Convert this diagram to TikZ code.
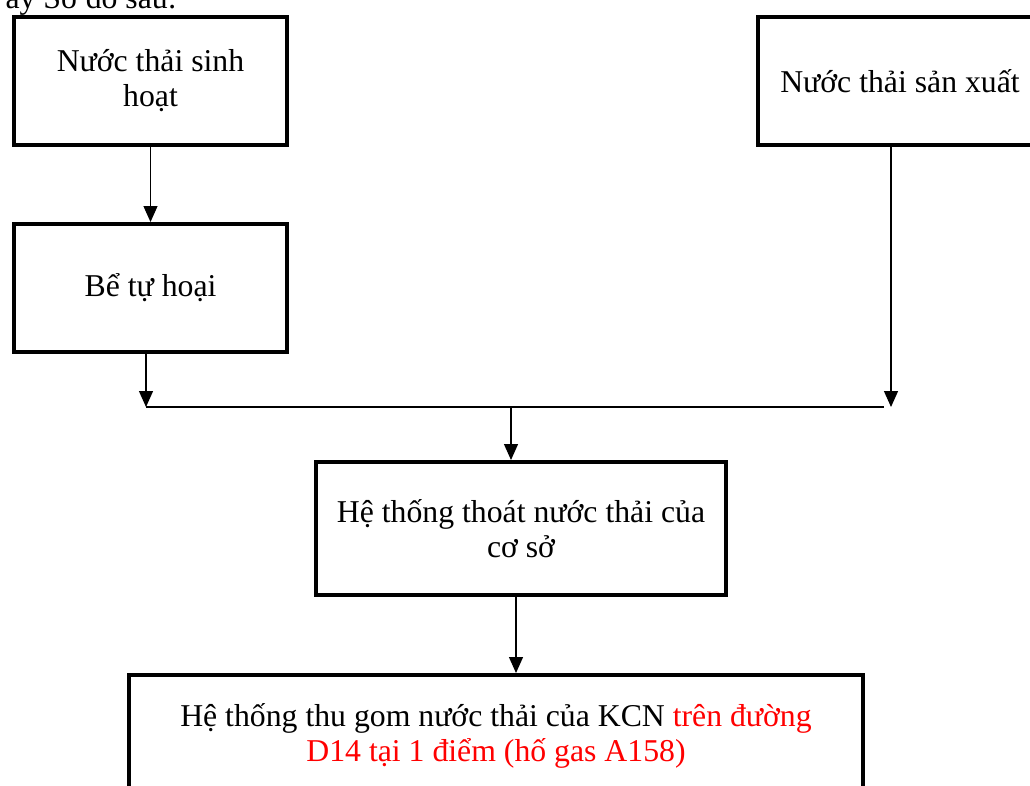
\documentclass[tikz,border=0pt]{standalone}
\usepackage{fontspec}
\setmainfont{Liberation Serif}
\usepackage{xcolor}
\usetikzlibrary{arrows.meta, positioning, calc}

\begin{document}
\begin{tikzpicture}
			\tikzstyle{box} = [rectangle, minimum width=109.2pt, minimum height=51.2pt, align=center, draw=black, line width=1.6pt, font=\fontsize{12.7}{14}\selectfont]
			\tikzstyle{arrow} = [line width=0.5pt, -{Triangle[width=5.6pt,length=6.4pt]}]
			
			\useasboundingbox (0,0) rectangle (412pt,-314pt);
			
			% Text above
			\node (intro) [anchor=base west, inner sep=0pt, font=\fontsize{12.7}{14}\selectfont] at (2pt,-3.4pt) {ây Sơ đồ sau:};
			
			% Nodes
			\node (sinhhoat) [box] at (60.2pt,-32.4pt) {Nước thải sinh\\hoạt};
			\node (tuhoai) [box, below=30pt of sinhhoat] {Bể tự hoại};
			\node (sanxuat) [box, right=186.8pt of sinhhoat, minimum width=113.6pt] {Nước thải sản xuất};
			
			\node (xuly) [box, minimum width=164pt, minimum height=53.2pt] at (208.4pt,-211.4pt) {Hệ thống thoát nước thải của\\cơ sở};
			\node (thugom) [box, below=30.4pt of xuly, xshift=-10pt, minimum width=293.6pt, minimum height=49pt] {Hệ thống thu gom nước thải của KCN \textcolor{red}{trên đường}\\\textcolor{red}{D14 tại 1 điểm (hố gas A158)}};
			
			% Junction
			\coordinate (jleft) at (58.4pt,-162.8pt);
			\coordinate (jright) at (356.4pt,-162.8pt);
			\coordinate (jmid) at (204.4pt,-162.8pt);
			
			% Arrows
			\draw [arrow] (sinhhoat) -- (tuhoai);
			\draw [arrow] (tuhoai.south -| jleft) -- (jleft);
			\draw [arrow] (sanxuat.south -| jright) -- (jright);
			\draw [line width=0.5pt] (jleft) -- ([xshift=-2.8pt]jright);
			\draw [arrow] (jmid) -- (jmid |- xuly.north);
			\draw [arrow] ([xshift=-2pt]xuly.south) -- ([xshift=-2pt]xuly.south |- thugom.north);
			
		\end{tikzpicture}
\end{document}
